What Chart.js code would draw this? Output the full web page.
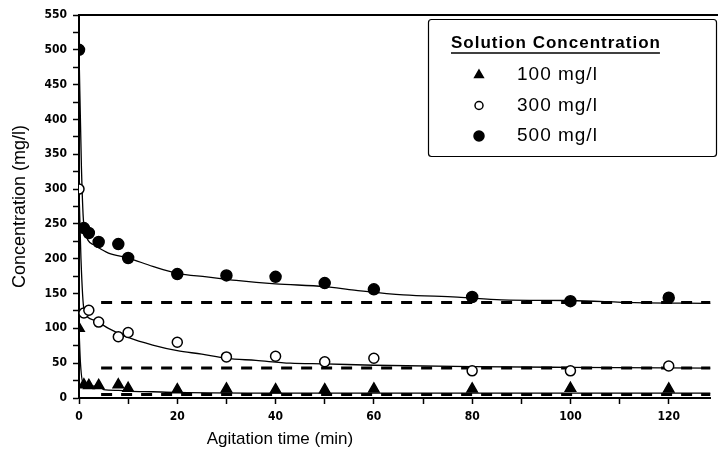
<!DOCTYPE html>
<html>
<head>
<meta charset="utf-8">
<script src="https://cdn.jsdelivr.net/npm/chart.js@4.4.1/dist/chart.umd.min.js"></script>
<style>
  html, body { margin: 0; padding: 0; background: #fff; overflow: hidden; }
  #wrap { position: relative; width: 718px; height: 456px; }
</style>
</head>
<body>
<div id="wrap"><canvas id="c"></canvas></div>
<script>
const times = [0, 1, 2, 4, 8, 10, 20, 30, 40, 50, 60, 80, 100, 120];
const conc100 = [100, 19, 18, 18, 19, 14, 12, 13, 12, 12, 13, 13, 14, 13];
const conc300 = [300, 122, 126, 109, 88, 94, 80, 59, 60, 52, 57, 39, 39, 46];
const conc500 = [500, 244, 237, 224, 221, 201, 178, 176, 174, 165, 156, 145, 139, 144];

// fitted curves (solid)
const fit100T = [0, 0.3, 1, 4, 5, 8, 10, 15, 20, 40, 60, 80, 100, 128.5];
const fit100C = [100, 50, 18, 17, 12, 11, 10, 9, 8, 7, 7, 7, 7, 7];
const fit300T = [0, 0.4, 1, 3, 6, 10, 15, 20, 25, 30, 36, 43, 50, 60, 80, 100, 128.5];
const fit300C = [300, 200, 128, 112, 100, 87, 76, 68, 63, 57, 54, 50, 49, 47, 45, 44, 43];
const fit500T = [0, 0.5, 1, 3, 6, 10, 15, 20, 26, 32, 40, 50, 56, 66, 77, 86, 100, 113, 128.5];
const fit500C = [500, 330, 248, 220, 208, 201, 189, 179, 174, 169, 164, 160, 155, 148, 145, 141, 140, 137, 136];

// equilibrium lines (dashed)
const eqT = [4.5, 128.5];
const eq100 = [5, 5];
const eq300 = [43, 43];
const eq500 = [137, 137];

const legendLabels = ['100 mg/l', '300 mg/l', '500 mg/l'];
const legendTitle = 'Solution Concentration';

const tickFont = { family: '"Liberation Sans Narrow", "DejaVu Sans Condensed", sans-serif', weight: 'bold', size: 12 };

function xy(ts, vs) {
    return ts.map((t, i) => ({ x: t, y: vs[i] }));
}

function pointSet(data, style, fill, r) {
    return {
        type: 'scatter', data: data, showLine: false,
        pointStyle: style, pointRadius: r, pointBackgroundColor: fill,
        pointBorderColor: '#000', pointBorderWidth: 1.5
    };
}

function lineSet(data, dash, w) {
    return {
        type: 'line', data: data, borderColor: '#000', borderWidth: w,
        borderDash: dash, pointRadius: 0, fill: false,
        cubicInterpolationMode: 'monotone'
    };
}

// top frame line, x title and the boxed legend
const extras = {
    id: 'extras',
    afterDraw(chart) {
        const ctx = chart.ctx, a = chart.chartArea;
        ctx.save();
        ctx.strokeStyle = '#000';
        ctx.lineWidth = 2;
        ctx.beginPath();
        ctx.moveTo(a.left, a.top);
        ctx.lineTo(chart.width, a.top);
        ctx.stroke();

        ctx.fillStyle = '#000';
        ctx.font = '17px "Liberation Sans", Arial, sans-serif';
        ctx.textAlign = 'center';
        ctx.textBaseline = 'middle';
        ctx.fillText('Agitation time (min)', 280, 439);

        // legend box
        ctx.fillStyle = '#fff';
        ctx.lineWidth = 1.2;
        ctx.beginPath();
        ctx.roundRect(428.5, 19.5, 288, 137, 3);
        ctx.fill();
        ctx.stroke();

        ctx.fillStyle = '#000';
        ctx.textAlign = 'left';
        ctx.font = 'bold 17px "Liberation Sans", Arial, sans-serif';
        ctx.letterSpacing = '1px';
        ctx.fillText(legendTitle, 451, 43);
        const tw = ctx.measureText(legendTitle).width;
        ctx.lineWidth = 1.5;
        ctx.beginPath();
        ctx.moveTo(451, 53);
        ctx.lineTo(451 + tw - 1, 53);
        ctx.stroke();

        ctx.font = '19px "Liberation Sans", Arial, sans-serif';
        const styles = ['triangle', 'circle', 'circle'];
        const fills = ['#000', '#fff', '#000'];
        const radii = [5, 4, 5];
        legendLabels.forEach((lab, i) => {
            const y = 75 + i * 30.5;
            ctx.fillStyle = fills[i];
            ctx.strokeStyle = '#000';
            ctx.lineWidth = 1.5;
            Chart.helpers.drawPoint(ctx, { pointStyle: styles[i], radius: radii[i], rotation: 0, borderWidth: 1.5 }, 479, y);
            ctx.fillStyle = '#000';
            ctx.fillText(lab, 517, y);
        });
        ctx.restore();
    }
};

new Chart(document.getElementById('c'), {
    data: {
        datasets: [
            pointSet(xy(times, conc500), 'circle', '#000', 5.5),
            pointSet(xy(times, conc300), 'circle', '#fff', 5),
            pointSet(xy(times, conc100), 'triangle', '#000', 6),
            lineSet(xy(fit500T, fit500C), [], 1.3),
            lineSet(xy(fit300T, fit300C), [], 1.3),
            lineSet(xy(fit100T, fit100C), [], 1.3),
            lineSet(xy(eqT, eq500), [11, 9], 3),
            lineSet(xy(eqT, eq300), [11, 9], 3),
            lineSet(xy(eqT, eq100), [11, 9], 3)
        ]
    },
    options: {
        responsive: true,
        maintainAspectRatio: false,
        animation: false,
        layout: { padding: { top: 15, right: 0, left: 0, bottom: 0 } },
        plugins: { legend: { display: false }, tooltip: { enabled: false } },
        scales: {
            x: {
                type: 'linear', min: 0, max: 128.5,
                border: { color: '#000', width: 2 },
                grid: { drawOnChartArea: false, tickLength: 6, tickColor: '#000', tickWidth: 1.5 },
                ticks: {
                    stepSize: 10, includeBounds: false, color: '#000', font: tickFont, padding: 6,
                    maxRotation: 0, autoSkip: false,
                    callback: v => (v % 20 === 0 ? String(v) : '')
                },
                afterFit: s => { s.height = 58; }
            },
            y: {
                type: 'linear', min: 0, max: 550,
                border: { color: '#000', width: 2 },
                grid: { drawOnChartArea: false, tickLength: 6, tickColor: '#000', tickWidth: 1.5 },
                ticks: {
                    stepSize: 25, color: '#000', font: tickFont, padding: 6, autoSkip: false,
                    callback: v => (v % 50 === 0 ? String(v) : '')
                },
                title: {
                    display: true, text: 'Concentration (mg/l)', color: '#000',
                    font: { family: '"Liberation Sans", Arial, sans-serif', size: 18 },
                    padding: { top: 9, bottom: 0 }
                },
                afterFit: s => { s.width = 79; }
            }
        }
    },
    plugins: [extras]
});
</script>
</body>
</html>
